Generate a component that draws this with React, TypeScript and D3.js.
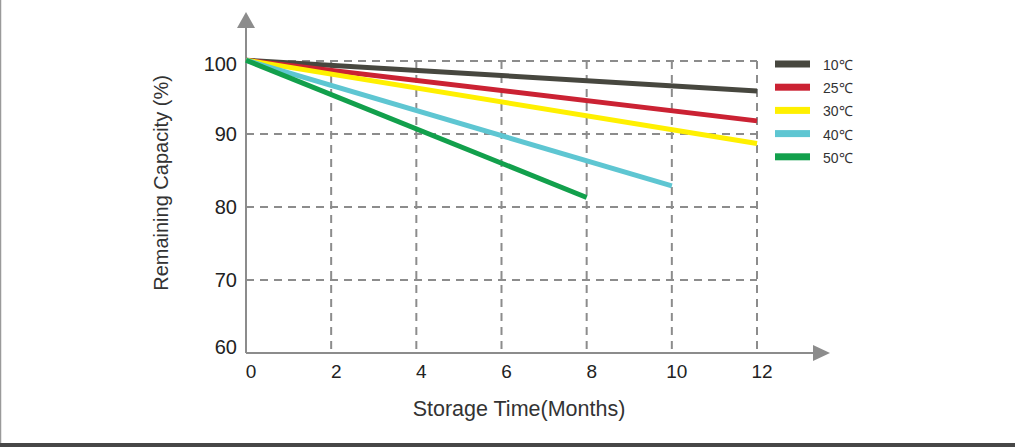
import React, { useRef, useEffect } from 'react';
import * as d3 from 'd3';

// months on storage
const months = [0, 2, 4, 6, 8, 10, 12];
const capacityTicks = [60, 70, 80, 90, 100];

const seriesNames = ['10℃', '25℃', '30℃', '40℃', '50℃'];
const seriesColors = ['#47473f', '#cb2233', '#fff000', '#5ec6d2', '#12a04c'];
// [month, remaining %] pairs
const temp10 = [[0, 100.1], [12, 95.9]];
const temp25 = [[0, 100.1], [12, 91.8]];
const temp30 = [[0, 100.1], [12, 88.7]];
const temp40 = [[0, 100.1], [10, 82.9]];
const temp50 = [[0, 100.1], [8, 81.3]];
const seriesData = [temp10, temp25, temp30, temp40, temp50];

const width = 1015;
const height = 447;
const axisColor = '#8c8c8c';
const font = '"Liberation Sans", Arial, sans-serif';

export default function App() {
    const ref = useRef<SVGSVGElement>(null);

    useEffect(() => {
        if (!ref.current) return;
        const svg = d3.select(ref.current);
        svg.selectAll('*').remove();

        const x = d3.scaleLinear().domain([0, 12]).range([246, 757]);
        const y = d3.scaleLinear().domain([60, 100]).range([353, 61]);

        // frame
        svg.append('line').attr('x1', 0.5).attr('x2', 0.5).attr('y1', 0).attr('y2', height)
            .style('stroke', '#9a9a9a').style('stroke-width', 1.5);
        svg.append('rect').attr('x', 0).attr('y', 443).attr('width', width).attr('height', 4)
            .style('fill', '#474747');

        // grid
        const grid = svg.append('g');
        grid.selectAll('line.h')
            .data(capacityTicks.filter(d => d > 60))
            .enter().append('line')
            .attr('x1', x(0)).attr('x2', x(12))
            .attr('y1', d => y(d)).attr('y2', d => y(d))
            .style('stroke', axisColor).style('stroke-width', 2)
            .style('stroke-dasharray', '8, 6');
        grid.selectAll('line.v')
            .data(months.filter(d => d > 0))
            .enter().append('line')
            .attr('x1', d => x(d)).attr('x2', d => x(d))
            .attr('y1', y(100)).attr('y2', y(60))
            .style('stroke', axisColor).style('stroke-width', 2)
            .style('stroke-dasharray', '8, 6');

        // axes with arrows
        svg.append('line').attr('x1', x(0)).attr('x2', x(0)).attr('y1', y(60)).attr('y2', 26)
            .style('stroke', axisColor).style('stroke-width', 2);
        svg.append('path')
            .attr('d', `M${x(0) - 9},${28} L${x(0)},${12} L${x(0) + 9},${28} Z`)
            .style('fill', axisColor);
        svg.append('line').attr('x1', x(0)).attr('x2', 815).attr('y1', y(60)).attr('y2', y(60))
            .style('stroke', axisColor).style('stroke-width', 2);
        svg.append('path')
            .attr('d', `M${813},${y(60) - 8} L${830},${y(60)} L${813},${y(60) + 8} Z`)
            .style('fill', axisColor);

        // tick labels
        svg.append('g').selectAll('text')
            .data(capacityTicks)
            .enter().append('text')
            .attr('x', 237).attr('y', d => y(d) + (d === 60 ? -6 : d === 100 ? 3 : 0))
            .attr('text-anchor', 'end').attr('dominant-baseline', 'central')
            .style('font-family', font).style('font-size', '20px').style('fill', '#222')
            .text(d => d);
        svg.append('g').selectAll('text')
            .data(months)
            .enter().append('text')
            .attr('x', d => x(d) + 5).attr('y', 378)
            .attr('text-anchor', 'middle')
            .style('font-family', font).style('font-size', '19px').style('fill', '#222')
            .text(d => d);

        // axis titles
        svg.append('text')
            .attr('transform', `translate(168, 183) rotate(-90)`)
            .attr('text-anchor', 'middle')
            .style('font-family', font).style('font-size', '20px').style('fill', '#333')
            .text('Remaining Capacity (%)');
        svg.append('text')
            .attr('x', 519).attr('y', 416)
            .attr('text-anchor', 'middle')
            .style('font-family', font).style('font-size', '21.5px').style('fill', '#333')
            .text('Storage Time(Months)');

        // series
        const line = d3.line<number[]>().x(d => x(d[0])).y(d => y(d[1]));
        svg.append('g').selectAll('path')
            .data(seriesData)
            .enter().append('path')
            .attr('d', d => line(d))
            .style('fill', 'none')
            .style('stroke', (d, i) => seriesColors[i])
            .style('stroke-width', 5);

        // legend
        const legend = svg.append('g').selectAll('g')
            .data(seriesNames)
            .enter().append('g')
            .attr('transform', (d, i) => `translate(775, ${64 + i * 23.2})`);
        legend.append('rect')
            .attr('x', 0).attr('y', -3.5).attr('width', 35).attr('height', 7)
            .style('fill', (d, i) => seriesColors[i]);
        legend.append('text')
            .attr('x', 48).attr('y', 1)
            .attr('dominant-baseline', 'central')
            .style('font-family', font).style('font-size', '14px').style('fill', '#333')
            .text(d => d);
    }, []);

    return (
        <svg
            ref={ref}
            width={width}
            height={height}
            style={{ position: 'absolute', left: 0, top: 0, background: '#fff' }}
        />
    );
}
